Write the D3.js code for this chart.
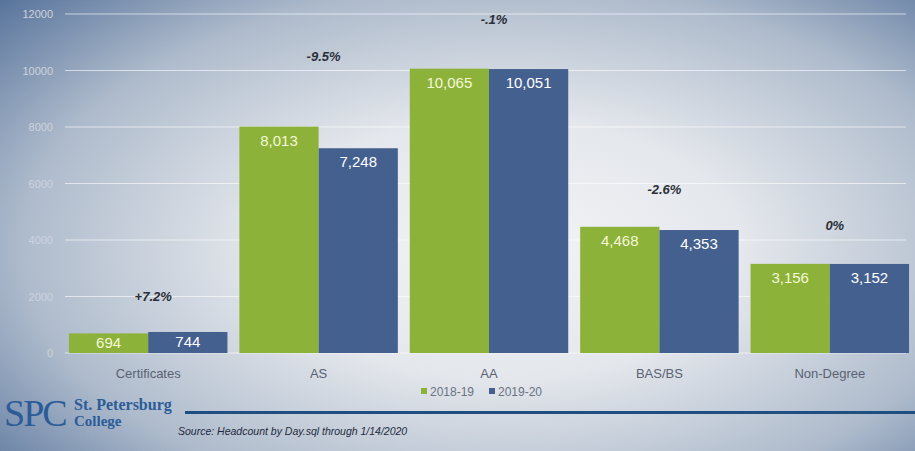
<!DOCTYPE html>
<html><head><meta charset="utf-8">
<script src="https://cdnjs.cloudflare.com/ajax/libs/d3/7.8.5/d3.min.js"></script>
<style>body{margin:0;}svg{display:block;}</style>
</head><body>
<svg id="c" width="915" height="451"></svg>
<script>
const categories = ["Certificates","AS","AA","BAS/BS","Non-Degree"];
const series = ["2018-19","2019-20"];
const values2018 = [694, 8013, 10065, 4468, 3156];
const values2019 = [744, 7248, 10051, 4353, 3152];
const changeLabels = ["+7.2%","-9.5%","-.1%","-2.6%","0%"];
const changeLabelLevel = [1850, 10350, 11650, 5630, 4350];
const yTicks = [0,2000,4000,6000,8000,10000,12000];
const colors = ["#8db23a","#44608f"];

const svg = d3.select("#c");
const W = 915, H = 451;
const defs = svg.append("defs");
const rg = defs.append("radialGradient").attr("id","bg").attr("cx","0.55").attr("cy","0.55").attr("r","0.75")
  .attr("gradientTransform","translate(0.55,0.55) scale(1,1.1) translate(-0.55,-0.55)");
rg.append("stop").attr("offset","0").attr("stop-color","#f3f4f6");
rg.append("stop").attr("offset","0.35").attr("stop-color","#e4e7ec");
rg.append("stop").attr("offset","0.7").attr("stop-color","#aebbcc");
rg.append("stop").attr("offset","1").attr("stop-color","#55719a");
svg.append("rect").attr("width",W).attr("height",H).attr("fill","url(#bg)");

const x = d3.scaleBand().domain(categories).range([63,915]).paddingInner(0.07).paddingOuter(0.035);
const xs = d3.scaleBand().domain(series).range([0,x.bandwidth()]);
const y = d3.scaleLinear().domain([0,12000]).range([353,14]);

// grid
svg.append("g").selectAll("line").data(yTicks).join("line")
  .attr("x1",65).attr("x2",906).attr("y1",d=>y(d)).attr("y2",d=>y(d))
  .attr("stroke","#ffffff").attr("stroke-opacity",0.6).attr("stroke-width",1);

// y axis labels
const yAxis = d3.axisLeft(y).tickValues(yTicks).tickSize(0).tickPadding(0).tickFormat(d3.format("d"));
const ga = svg.append("g").attr("transform","translate(53,0)").call(yAxis);
ga.select(".domain").remove();
ga.selectAll("text").attr("fill","#cdd3dc").attr("font-family","Liberation Sans, Arial").attr("font-size",11);

// bars
const data = categories.map((c,i)=>({c, vals:[values2018[i],values2019[i]]}));
const g = svg.append("g");
data.forEach((d,i)=>{
  d.vals.forEach((v,j)=>{
    const bx = x(d.c)+xs(series[j]);
    g.append("rect").attr("x",bx).attr("y",y(v)).attr("width",xs.bandwidth()).attr("height",y(0)-y(v))
      .attr("fill",colors[j]);
    const ty = Math.min(y(v)+19, (y(v)+y(0))/2+5);
    g.append("text").attr("x",bx+xs.bandwidth()/2).attr("y",ty).attr("text-anchor","middle")
      .attr("font-family","Liberation Sans, Arial").attr("font-size",15)
      .attr("fill", j===0?"#f4f8d8":"#ffffff").text(d3.format(",")(v));
  });
  g.append("text").attr("x",x(d.c)+x.bandwidth()/2+5).attr("y",y(changeLabelLevel[i])).attr("text-anchor","middle")
    .attr("font-family","Liberation Sans, Arial").attr("font-size",13).attr("font-weight","bold").attr("font-style","italic")
    .attr("fill","#2a2f38").text(changeLabels[i]);
});

// x axis labels
const xAxis = d3.axisBottom(x).tickSize(0).tickPadding(0);
const gx = svg.append("g").attr("transform","translate(0,378)").call(xAxis);
gx.select(".domain").remove();
gx.selectAll("text").attr("fill","#5a6272").attr("font-family","Liberation Sans, Arial").attr("font-size",13).attr("dy",0);

// legend
const lg = svg.append("g").attr("transform","translate(421,392)");
series.forEach((s,i)=>{
  const gi = lg.append("g").attr("transform",`translate(${i*68},0)`);
  gi.append("rect").attr("x",0).attr("y",-4).attr("width",6).attr("height",6).attr("fill",colors[i]);
  gi.append("text").attr("x",9).attr("y",4).attr("font-family","Liberation Sans, Arial").attr("font-size",12)
    .attr("fill","#6a7282").text(s);
});

// logo
svg.append("text").attr("x",4).attr("y",426).attr("font-family","Liberation Serif, Times New Roman, serif")
  .attr("font-size",38).attr("fill","#2b5c98").attr("letter-spacing",-2).text("SPC");
svg.append("text").attr("x",74).attr("y",410).attr("font-family","Liberation Serif, serif").attr("font-weight","bold")
  .attr("font-size",16).attr("fill","#2b5c98").text("St. Petersburg");
svg.append("text").attr("x",74).attr("y",426).attr("font-family","Liberation Serif, serif").attr("font-weight","bold")
  .attr("font-size",15).attr("fill","#2b5c98").text("College");
svg.append("rect").attr("x",185).attr("y",411).attr("width",730).attr("height",3).attr("fill","#1f4f80");
svg.append("text").attr("x",178).attr("y",435).attr("font-family","Liberation Sans, Arial").attr("font-style","italic")
  .attr("font-size",10.5).attr("fill","#1e2a3c").text("Source: Headcount by Day.sql through 1/14/2020");
</script>
</body></html>
